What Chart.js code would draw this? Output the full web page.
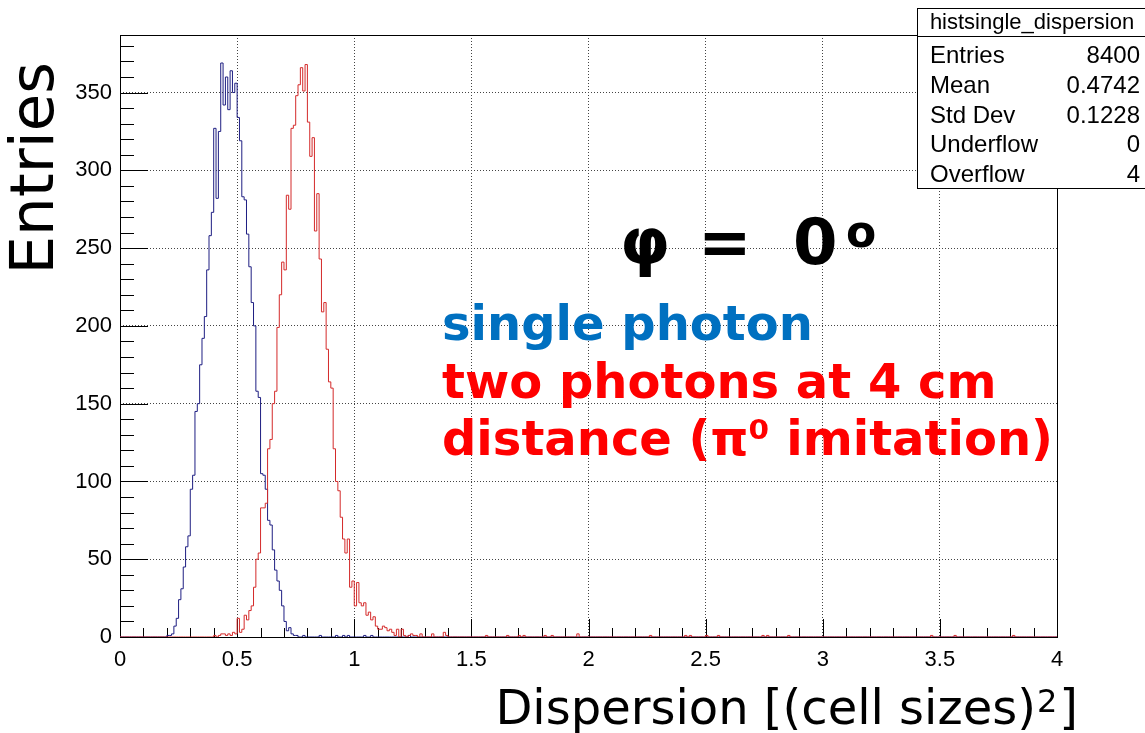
<!DOCTYPE html>
<html>
<head>
<meta charset="utf-8">
<script src="https://cdn.jsdelivr.net/npm/chart.js@4/dist/chart.umd.min.js"></script>
<style>
  html, body { margin: 0; padding: 0; background: #fff; }
</style>
</head>
<body>
<canvas id="chart" width="1145" height="733"></canvas>
<script>
// histogram binning: 400 bins of 0.01 from 0 to 4
const binWidth = 0.01;
const nBins = 400;
const yMax = 387;

// single photon (blue), counts per bin starting at bin 20 (x = 0.20)
const singleFirstBin = 20;
const singleCounts = [
  1, 1, 2, 7, 12, 24, 31, 45, 58, 65,
  95, 104, 145, 150, 175, 192, 206, 236, 258, 273,
  327, 282, 325, 369, 342, 360, 339, 364, 350, 356,
  334, 319, 283, 281, 259, 238, 215, 200, 158, 154,
  105, 104, 95, 75, 72, 56, 43, 36, 30, 20,
  10, 4, 6, 2, 1, 1
];
const singleStrayBins = [78, 85, 92, 95, 97, 104, 107, 123];
const singleStrayCounts = [1, 1, 1, 1, 1, 1, 1, 1];

// two photons at 4 cm (red), counts per bin starting at bin 40 (x = 0.40)
const pairFirstBin = 40;
const pairCounts = [
  1, 0, 1, 2, 2, 1, 2, 1, 3, 2,
  12, 3, 5, 14, 11, 17, 20, 32, 50, 54,
  83, 83, 86, 121, 127, 150, 158, 199, 220, 241,
  236, 284, 275, 327, 329, 348, 355, 366, 351, 368,
  331, 309, 321, 261, 285, 243, 209, 215, 185, 164,
  160, 121, 100, 94, 77, 63, 54, 63, 32, 36,
  20, 35, 22, 20, 22, 14, 16, 11, 13, 7,
  5, 5, 7, 6, 4, 5, 3, 1, 5, 0,
  5, 1, 0, 1, 2, 1, 1, 0, 2
];
const pairStrayBins = [133, 138, 139, 156, 165, 170, 172, 181, 184, 195, 226, 241, 243, 250, 255, 274, 276, 285, 346, 356, 381];
const pairStrayCounts = [2, 3, 1, 1, 1, 1, 1, 1, 1, 2, 1, 1, 1, 1, 1, 1, 1, 1, 1, 1, 1];

// stat box of histsingle_dispersion
const statTitle = 'histsingle_dispersion';
const statNames = ['Entries', 'Mean', 'Std Dev', 'Underflow', 'Overflow'];
const statValues = ['8400', '0.4742', '0.1228', '0', '4'];

function buildBins(firstBin, counts, strayBins, strayCounts) {
  const bins = new Array(nBins).fill(0);
  counts.forEach((c, k) => { bins[firstBin + k] = c; });
  strayBins.forEach((b, k) => { bins[b] += strayCounts[k]; });
  return bins;
}

// one point per bin low edge, plus closing point at the upper edge
function toSteps(bins) {
  const pts = bins.map((c, i) => ({ x: +(i * binWidth).toFixed(2), y: c }));
  pts.push({ x: nBins * binWidth, y: bins[nBins - 1] });
  return pts;
}

const singleBins = buildBins(singleFirstBin, singleCounts, singleStrayBins, singleStrayCounts);
const pairBins = buildBins(pairFirstBin, pairCounts, pairStrayBins, pairStrayCounts);

// frame + ROOT style inner tick marks
const frameTicks = {
  id: 'frameTicks',
  beforeDatasetsDraw(chart) {
    const { ctx, chartArea: a, scales: { x, y } } = chart;
    ctx.save();
    ctx.strokeStyle = '#000';
    ctx.lineWidth = 1;
    ctx.beginPath();
    for (let k = 0; k <= 40; k++) {
      const px = Math.round(x.getPixelForValue(k * 0.1)) + 0.5;
      const len = k % 5 === 0 ? 18 : 9;
      ctx.moveTo(px, a.bottom);
      ctx.lineTo(px, a.bottom - len);
    }
    for (let v = 0; v <= 380; v += 10) {
      const py = Math.round(y.getPixelForValue(v)) + 0.5;
      const len = v % 50 === 0 ? 28 : 14;
      ctx.moveTo(a.left, py);
      ctx.lineTo(a.left + len, py);
    }
    ctx.stroke();
    ctx.strokeRect(Math.round(a.left) + 0.5, Math.round(a.top) + 0.5,
      Math.round(a.right - a.left), Math.round(a.bottom - a.top));
    ctx.restore();
  }
};

// axis titles, annotations and the stat box
const textLayer = {
  id: 'textLayer',
  afterDraw(chart) {
    const { ctx } = chart;
    ctx.save();
    ctx.fillStyle = '#000';

    // y title
    ctx.save();
    ctx.translate(53, 62);
    ctx.rotate(-Math.PI / 2);
    ctx.font = '61px "DejaVu Sans"';
    ctx.textAlign = 'right';
    ctx.textBaseline = 'alphabetic';
    ctx.fillText('Entries', 0, 0);
    ctx.restore();

    // x title, with a raised "2"
    const xMain = 'Dispersion [(cell sizes)';
    const xSup = '2';
    const xEnd = ']';
    ctx.font = '48px "DejaVu Sans"';
    const wMain = ctx.measureText(xMain).width;
    const wEnd = ctx.measureText(xEnd).width;
    ctx.font = '32px "DejaVu Sans"';
    const wSup = ctx.measureText(xSup).width + 3;
    const xs = 1078 - wMain - wSup - wEnd;
    ctx.textAlign = 'left';
    ctx.font = '48px "DejaVu Sans"';
    ctx.fillText(xMain, xs, 724);
    ctx.font = '32px "DejaVu Sans"';
    ctx.fillText(xSup, xs + wMain + 1, 712);
    ctx.font = '48px "DejaVu Sans"';
    ctx.fillText(xEnd, xs + wMain + wSup, 724);

    // phi annotation: "φ = 0" with a raised "o" as degree sign
    ctx.font = 'bold 64px "DejaVu Sans"';
    ctx.fillText('φ', 620, 264);
    ctx.fillText('=', 698, 264);
    ctx.fillText('0', 793, 264);
    ctx.font = 'bold 44px "DejaVu Sans"';
    ctx.fillText('o', 846, 247);

    ctx.font = 'bold 48px "DejaVu Sans"';
    ctx.fillStyle = '#0070c0';
    ctx.fillText('single photon', 442, 340);
    ctx.fillStyle = '#ff0000';
    ctx.fillText('two photons at 4 cm', 442, 398);
    ctx.fillText('distance (π⁰ imitation)', 442, 455);

    // stat box
    ctx.fillStyle = '#fff';
    ctx.fillRect(917, 8, 228, 181);
    ctx.strokeStyle = '#000';
    ctx.lineWidth = 1;
    ctx.strokeRect(917.5, 8.5, 240, 180);
    ctx.beginPath();
    ctx.moveTo(917, 36.5);
    ctx.lineTo(1145, 36.5);
    ctx.stroke();
    ctx.fillStyle = '#000';
    ctx.font = '22px "Liberation Sans"';
    ctx.textAlign = 'center';
    ctx.fillText(statTitle, 1032, 29);
    ctx.font = '24px "Liberation Sans"';
    statNames.forEach((name, k) => {
      const base = 63 + k * 29.75;
      ctx.textAlign = 'left';
      ctx.fillText(name, 930, base);
      ctx.textAlign = 'right';
      ctx.fillText(statValues[k], 1140, base);
    });
    ctx.restore();
  }
};

const tickFont = { family: '"Liberation Sans", Arial, sans-serif', size: 22 };

new Chart(document.getElementById('chart').getContext('2d'), {
  type: 'line',
  data: {
    datasets: [
      {
        label: 'two photons at 4 cm',
        data: toSteps(pairBins),
        borderColor: '#d42a2a',
        borderWidth: 1,
        stepped: true,
        pointRadius: 0,
        fill: false
      },
      {
        label: 'single photon',
        data: toSteps(singleBins),
        borderColor: '#1e1e82',
        borderWidth: 1,
        stepped: true,
        pointRadius: 0,
        fill: false
      }
    ]
  },
  options: {
    responsive: false,
    animation: false,
    devicePixelRatio: 1,
    layout: { padding: { left: 0, right: 88, top: 35, bottom: 0 } },
    plugins: { legend: { display: false }, tooltip: { enabled: false }, title: { display: false } },
    scales: {
      x: {
        type: 'linear',
        min: 0,
        max: 4,
        ticks: {
          stepSize: 0.5, includeBounds: false, font: tickFont, color: '#000', padding: 10,
          maxRotation: 0, autoSkip: false,
          callback: (v) => String(Math.round(v * 10) / 10)
        },
        grid: { color: '#444', lineWidth: 1, drawTicks: false },
        border: { display: false, dash: [1, 2] },
        afterFit(scale) { scale.height = 96; }
      },
      y: {
        type: 'linear',
        min: 0,
        max: yMax,
        ticks: { stepSize: 50, includeBounds: false, font: tickFont, color: '#000', padding: 8 },
        grid: { color: '#444', lineWidth: 1, drawTicks: false },
        border: { display: false, dash: [1, 2] },
        afterFit(scale) { scale.width = 120; }
      }
    }
  },
  plugins: [frameTicks, textLayer]
});
</script>
</body>
</html>
